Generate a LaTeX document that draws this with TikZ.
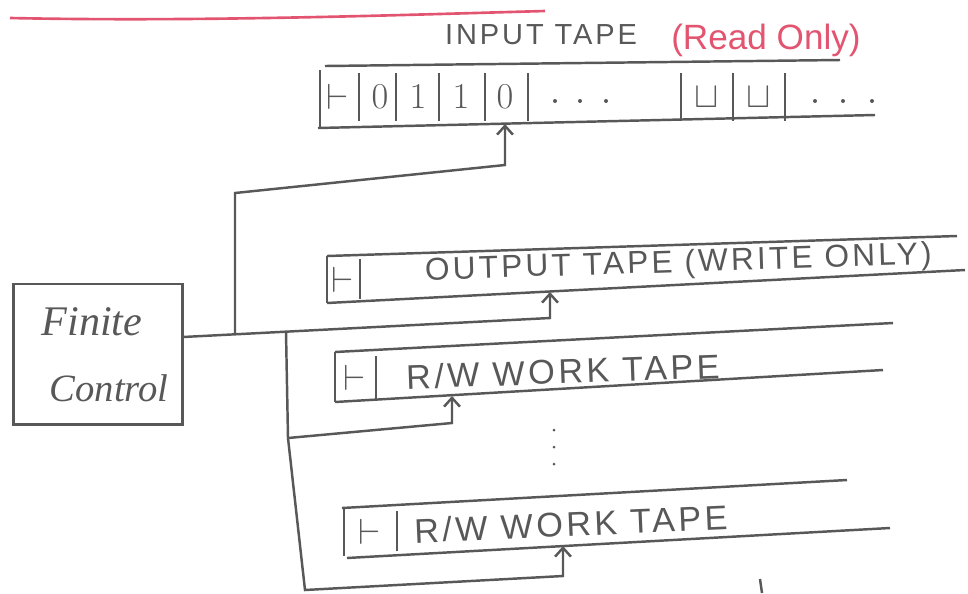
\documentclass[tikz,border=0pt]{standalone}
\usepackage{fontspec}
\setmainfont{Liberation Sans}
\newfontfamily\tapefont[LetterSpace=10]{Liberation Sans}
\newfontfamily\ctrlfont{Liberation Serif}
\usetikzlibrary{arrows.meta, positioning}
\definecolor{mygray}{RGB}{88, 88, 88}
\definecolor{myred}{RGB}{226, 84, 112}

\begin{document}
\begin{tikzpicture}[x=0.02cm, y=-0.02cm, color=mygray, line width=1.4pt,
    tape/.style={draw=mygray, line width=1.4pt},
    head/.style={draw=mygray, line width=1.4pt, -{Straight Barb[length=5pt, width=9pt]}},
    cell/.style={font=\fontsize{20}{20}\selectfont, inner sep=0pt},
    tapetext/.style={font=\tapefont\fontsize{19.5}{20}\selectfont, inner sep=0pt, anchor=west}]
    \useasboundingbox (0,0) rectangle (968,593);

    % red rule on top
    \draw[myred, line width=1.5pt] (10,18) .. controls (200,22) and (400,15) .. (545,11);

    % input tape
    \node[tapetext, font=\tapefont\fontsize{16.5}{17}\selectfont] (intext) at (444,35) {INPUT TAPE};
    \node[font=\fontsize{20}{20}\selectfont, text=myred, inner sep=0pt] (inro) at (766,40) {(Read Only)};
    \draw[tape] (325,66) -- (840,60);
    \draw[tape] (318,128) -- (875,115);
    \draw[tape] (320,70) -- (320,127);
    \foreach \x in {359,396,439,485,528,681,733,785}
        \draw[tape] (\x,73) -- (\x,121);
    \foreach \x/\s in {338/\vdash, 380/0, 418/1, 461/1, 505/0, 707/\sqcup, 759/\sqcup}
        \node[cell] (c\x) at (\x,97) {$\s$};
    \foreach \x in {555,580,606,815,843,872}
        \fill (\x,101) circle[radius=2];

    % output tape
    \draw[tape] (327,256) -- (957,236);
    \draw[tape] (327,303) -- (965,270);
    \draw[tape] (327,256) -- (327,303);
    \draw[tape] (360,259) -- (360,299);
    \node[cell] (os) at (343,280) {$\vdash$};
    \node[tapetext, font=\tapefont\fontsize{18}{18}\selectfont, rotate=1.8] (outtext) at (424,272) {OUTPUT TAPE (WRITE ONLY)};

    % work tape 1
    \draw[tape] (335,352) -- (893,323);
    \draw[tape] (335,402) -- (883,370);
    \draw[tape] (335,352) -- (335,402);
    \draw[tape] (376,356) -- (376,399);
    \node[cell] (w1s) at (355,378) {$\vdash$};
    \node[tapetext, rotate=2] (w1text) at (405,377) {R/W WORK TAPE};

    % dots
    \foreach \y in {430,447,464}
        \fill (554,\y) circle[radius=1.5];

    % work tape 2
    \draw[tape] (342,508) -- (847,480);
    \draw[tape] (347,558) -- (890,528);
    \draw[tape] (344,508) -- (344,556);
    \draw[tape] (397,511) -- (397,551);
    \node[cell] (w2s) at (370,532) {$\vdash$};
    \node[tapetext, rotate=2.5] (w2text) at (413,531) {R/W WORK TAPE};

    % finite control
    \node[draw, line width=1.4pt, minimum width=96pt, minimum height=80pt] (fc) at (98,354) {};
    \node[font=\ctrlfont\itshape\fontsize{24}{24}\selectfont] (fin) at (92,322) {Finite};
    \node[font=\ctrlfont\itshape\fontsize{22}{22}\selectfont] (ctl) at (109,388) {Control};

    % heads
    \coordinate (fcout) at (183,337);
    \coordinate (jin) at (235,334.3);
    \coordinate (jw) at (286,331.7);
    \coordinate (jw2) at (288,438);
    \coordinate (inhead) at (505,124);
    \coordinate (outhead) at (550,292);
    \coordinate (w1head) at (452,396);
    \coordinate (w2head) at (563,546);
    \draw[head] (fcout) -- (550,318) -- (outhead);
    \draw[head] (jin) -- (235,193) -- (505,165) -- (inhead);
    \draw[head] (jw) -- (jw2) -- (452,423) -- (w1head);
    \draw[head] (jw2) -- (305,590) -- (563,576) -- (w2head);

    \draw (760,579) -- (762,593);
\end{tikzpicture}
\end{document}
